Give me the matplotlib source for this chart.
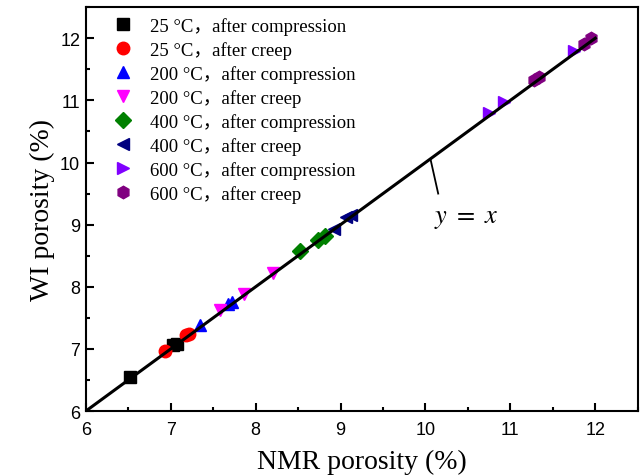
import matplotlib
matplotlib.use("Agg")
import matplotlib.pyplot as plt
from matplotlib.ticker import MultipleLocator

labels = ["25 °C，after compression", "25 °C，after creep",
          "200 °C，after compression", "200 °C，after creep",
          "400 °C，after compression", "400 °C，after creep",
          "600 °C，after compression", "600 °C，after creep"]
colors = ["#000000", "#ff0000", "#0000ff", "#ff00ff", "#008000", "#000080", "#8000ff", "#800080"]
markers = ["s", "o", "^", "v", "D", "<", ">", "h"]

nmr_values = [
    [6.52, 7.03, 7.07],
    [6.93, 7.18, 7.21],
    [7.35, 7.68, 7.72],
    [7.58, 7.86, 8.20],
    [8.52, 8.73, 8.82],
    [8.92, 9.07, 9.12],
    [10.75, 10.93, 11.75],
    [11.28, 11.34, 11.87, 11.95],
]
wi_values = [
    [6.55, 7.06, 7.08],
    [6.96, 7.22, 7.24],
    [7.39, 7.73, 7.76],
    [7.62, 7.88, 8.23],
    [8.57, 8.76, 8.82],
    [8.93, 9.13, 9.15],
    [10.80, 10.98, 11.80],
    [11.32, 11.38, 11.90, 12.01],
]
fit_x = [6, 12]
fit_y = [6, 12]

serif = ["Liberation Serif", "Noto Sans CJK SC"]
plt.rcParams["mathtext.fontset"] = "stix"

fig = plt.figure(figsize=(6.4, 4.77), dpi=100)
ax = fig.add_axes([0.134, 0.136, 0.8625, 0.847])

ax.plot(fit_x, fit_y, color="black", lw=2.2, zorder=3)
for lab, c, m, xs, ys in zip(labels, colors, markers, nmr_values, wi_values):
    ms = 9 if m != "D" else 8
    ax.plot(xs, ys, linestyle="none", marker=m, color=c, markersize=ms,
            label=lab, zorder=2)

ax.plot([10.06, 10.15], [10.05, 9.50], color="black", lw=1.3)
ax.text(10.48, 9.12, "$y\\ =\\ x$", fontsize=19, ha="center", va="center")

ax.set_xlim(6, 12.5)
ax.set_ylim(6, 12.5)
ax.xaxis.set_major_locator(MultipleLocator(1))
ax.xaxis.set_minor_locator(MultipleLocator(0.5))
ax.yaxis.set_major_locator(MultipleLocator(1))
ax.yaxis.set_minor_locator(MultipleLocator(0.5))
ax.tick_params(which="both", direction="in", width=1.5, labelsize=13)
ax.tick_params(axis="x", which="both", pad=7)
ax.tick_params(axis="y", which="both", pad=4)
ax.tick_params(which="major", length=6)
ax.tick_params(which="minor", length=3)
for lab in ax.get_xticklabels() + ax.get_yticklabels():
    lab.set_fontfamily("Liberation Sans")
for s in ax.spines.values():
    s.set_linewidth(1.5)

ax.set_xlabel("NMR porosity (%)", fontsize=20, family=serif, labelpad=8)
ax.set_ylabel("WI porosity (%)", fontsize=20, family=serif, labelpad=4)

leg = ax.legend(loc="upper left", frameon=False, prop={"family": serif, "size": 13.5},
                handletextpad=0.64, labelspacing=0.33, borderaxespad=0.0,
                handlelength=1.6, bbox_to_anchor=(0.026, 0.995))

fig.savefig("out.png", dpi=100)
